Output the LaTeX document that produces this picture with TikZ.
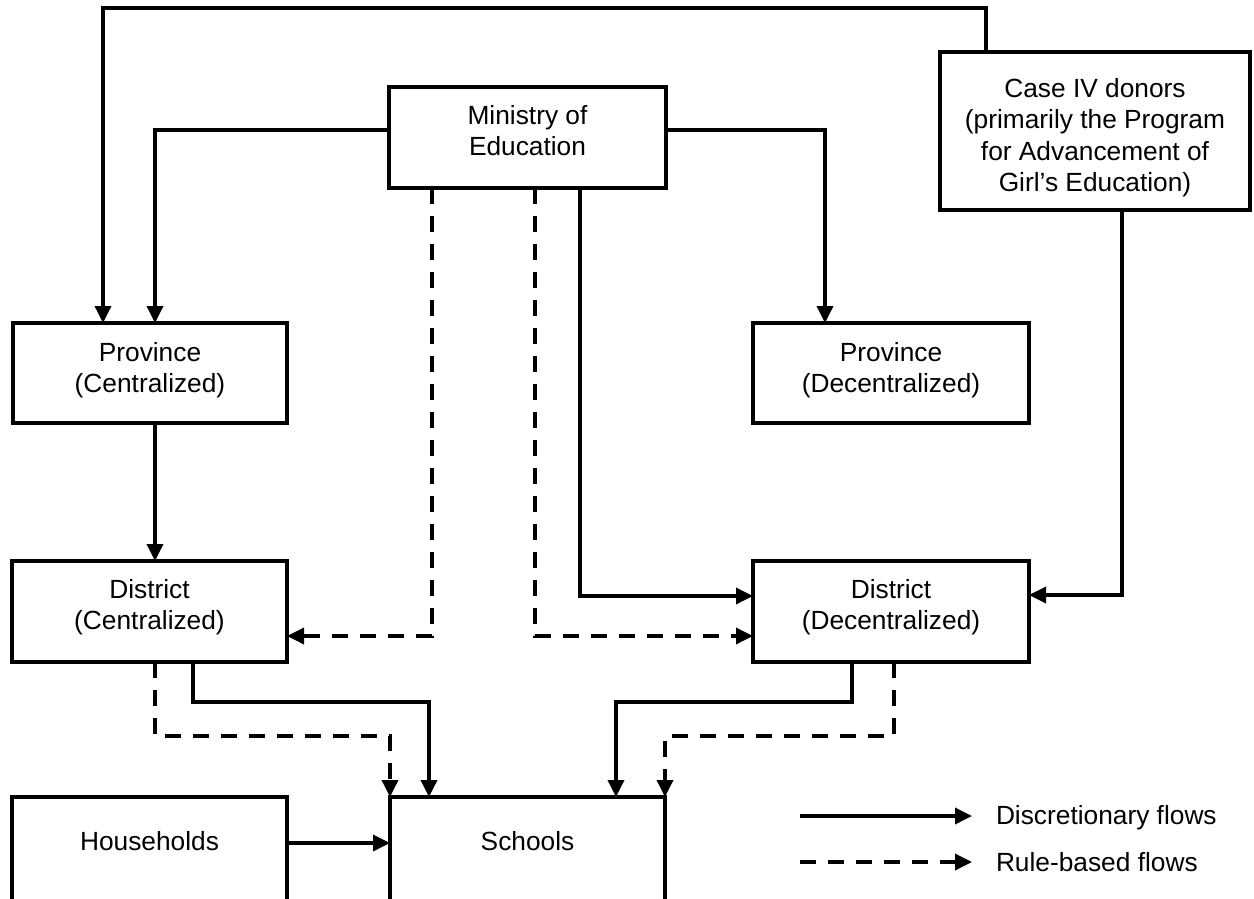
\documentclass[tikz,border=0pt]{standalone}
\usepackage{fontspec}
\setmainfont{Liberation Sans}[Ligatures=NoCommon]
\usetikzlibrary{arrows.meta}
\tikzset{
  box/.style={draw, line width=3.5pt, inner sep=0pt, outer sep=0pt},
  lbl/.style={inner sep=0pt, outer sep=0pt, align=center, anchor=north,
    font=\fontsize{26.3}{31.5}\selectfont},
  legtext/.style={inner sep=0pt, outer sep=0pt, anchor=base west,
    font=\fontsize{26.3}{31.5}\selectfont},
  flow/.style={line width=3.5pt, -{Triangle[length=17pt,width=16pt]}},
  rflow/.style={flow, dash pattern=on 16pt off 12pt},
}
\begin{document}
\begin{tikzpicture}[x=1pt,y=-1pt]
\useasboundingbox (0,0) rectangle (1254,898);
\clip (0,0) rectangle (1254,898);
% boxes
\node[box, minimum width=277pt, minimum height=101pt] (min) at (527.5,137.5) {};
\node[box, minimum width=310pt, minimum height=158pt] (cas) at (1095,131) {};
\node[box, minimum width=274pt, minimum height=100pt] (pc) at (150,373) {};
\node[box, minimum width=276pt, minimum height=100pt] (pd) at (891,373) {};
\node[box, minimum width=275pt, minimum height=101pt] (dc) at (149.5,611.5) {};
\node[box, minimum width=276pt, minimum height=101pt] (dd) at (891,611.5) {};
\node[box, minimum width=275pt, minimum height=104pt] (hh) at (149.5,849) {};
\node[box, minimum width=275pt, minimum height=104pt] (sc) at (527.5,849) {};
% labels
\node[lbl] (minL) at ([yshift=-18pt]min.north) {Ministry of\\Education};
\node[lbl] (casL) at ([yshift=-26pt]cas.north) {Case IV donors\\(primarily the Program\\for Advancement of\\Girl’s Education)};
\node[lbl] (pcL) at ([yshift=-19pt]pc.north) {Province\\(Centralized)};
\node[lbl] (pdL) at ([yshift=-19pt]pd.north) {Province\\(Decentralized)};
\node[lbl] (dcL) at ([yshift=-18pt]dc.north) {District\\(Centralized)};
\node[lbl] (ddL) at ([yshift=-18pt]dd.north) {District\\(Decentralized)};
\node[lbl] (hhL) at ([yshift=-34pt]hh.north) {Households};
\node[lbl] (scL) at ([yshift=-34pt]sc.north) {Schools};
% connectors
\draw[flow] ([xshift=-109pt]cas.north) |- (103,8) -- ([xshift=-47pt]pc.north);
\draw[flow] ([yshift=7.5pt]min.west) -| ([xshift=5pt]pc.north);
\draw[flow] ([yshift=7.5pt]min.east) -| ([xshift=-66pt]pd.north);
\draw[rflow] ([xshift=-95.5pt]min.south) |- ([yshift=-24.5pt]dc.east);
\draw[rflow] ([xshift=7.5pt]min.south) |- ([yshift=-24.5pt]dd.west);
\draw[flow] ([xshift=52.5pt]min.south) |- ([yshift=15.5pt]dd.west);
\draw[flow] ([xshift=27pt]cas.south) |- ([yshift=16.5pt]dd.east);
\draw[flow] ([xshift=5pt]pc.south) -- ([xshift=5.5pt]dc.north);
\draw[rflow] ([xshift=5.5pt]dc.south) |- (390,736) -- ([xshift=-137.5pt]sc.north);
\draw[flow] ([xshift=43.5pt]dc.south) |- (429,702) -- ([xshift=-98.5pt]sc.north);
\draw[flow] ([xshift=-39pt]dd.south) |- (616,702) -- ([xshift=88.5pt]sc.north);
\draw[rflow] ([xshift=3pt]dd.south) |- (665,736) -- ([xshift=137.5pt]sc.north);
\draw[flow] ([yshift=6pt]hh.east) -- ([yshift=6pt]sc.west);
% legend
\coordinate (l1a) at (800,816);
\coordinate (l1b) at (972,816);
\coordinate (l2a) at (800,862);
\coordinate (l2b) at (972,862);
\draw[flow] (l1a) -- (l1b);
\draw[rflow] (l2a) -- (l2b);
\node[legtext] (leg1) at (996,824) {Discretionary flows};
\node[legtext] (leg2) at (996,871) {Rule-based flows};
\end{tikzpicture}
\end{document}
